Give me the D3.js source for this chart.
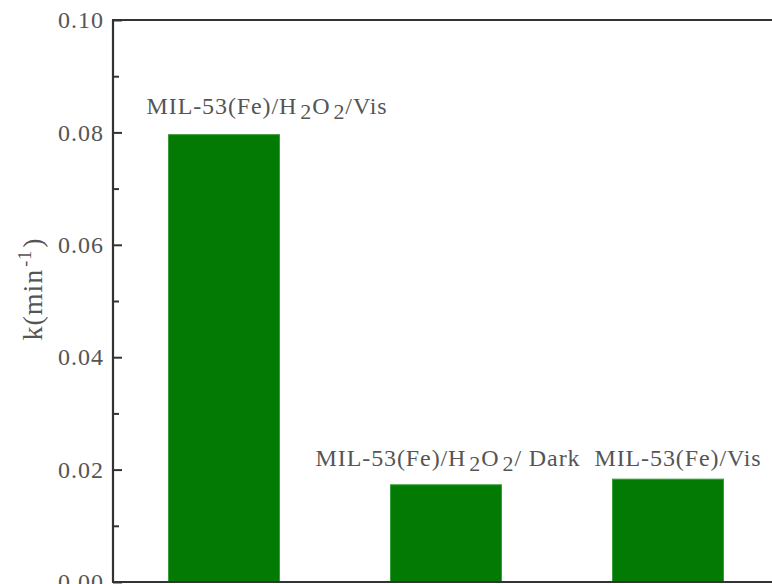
<!DOCTYPE html>
<html>
<head>
<meta charset="utf-8">
<script src="https://cdn.jsdelivr.net/npm/d3@7"></script>
<style>
  body { margin: 0; background: #fff; }
  svg { display: block; }
</style>
</head>
<body>
<div class="container"></div>
<script>
// chart data
const categories = ["MIL-53(Fe)/H2O2/Vis", "MIL-53(Fe)/H2O2/Dark", "MIL-53(Fe)/Vis"];
const rateValues = [0.0796, 0.0173, 0.0183];
const majorTicks = [0.00, 0.02, 0.04, 0.06, 0.08, 0.10];
const minorTicks = [0.01, 0.03, 0.05, 0.07, 0.09];

// label pieces: [text, isSubscript]
const labelParts = [
  [["MIL-53(Fe)/H", false], ["2", true], ["O", false], ["2", true], ["/Vis", false]],
  [["MIL-53(Fe)/H", false], ["2", true], ["O", false], ["2", true], ["/ Dark", false]],
  [["MIL-53(Fe)/Vis", false]]
];
// nudge for each bar label (layout, not data)
const labelNudge = [[43, -21], [2, -19], [10, -13]];

const width = 772;
const height = 584;
const margin = { top: 20, bottom: 2, left: 113, right: -7 };

const svg = d3.select(".container")
  .append("svg")
  .attr("width", width)
  .attr("height", height);

const xScale = d3.scaleBand()
  .domain(categories)
  .range([margin.left, width - margin.right])
  .paddingInner(0.5)
  .paddingOuter(0.25);

const yScale = d3.scaleLinear()
  .domain([0, 0.1])
  .range([height - margin.bottom, margin.top]);

const textColor = "#555";
const axisColor = "#333";
const font = "'Liberation Serif', 'Times New Roman', serif";

// bars
svg.append("g")
  .selectAll("rect")
  .data(rateValues)
  .join("rect")
  .attr("x", (d, i) => xScale(categories[i]))
  .attr("y", d => yScale(d))
  .attr("width", xScale.bandwidth())
  .attr("height", d => yScale(0) - yScale(d))
  .attr("fill", "#037a03")
  .attr("stroke", "#3a9e3a")
  .attr("stroke-width", 1);

// bar labels
const labels = svg.append("g")
  .selectAll("text")
  .data(rateValues)
  .join("text")
  .attr("x", (d, i) => xScale(categories[i]) + xScale.bandwidth() / 2 + labelNudge[i][0])
  .attr("y", (d, i) => yScale(d) + labelNudge[i][1])
  .attr("text-anchor", "middle")
  .attr("font-family", font)
  .attr("font-size", "24px")
  .attr("letter-spacing", "0.9px")
  .attr("fill", textColor);

labels.each(function(d, i) {
  const t = d3.select(this);
  labelParts[i].forEach(([txt, sub], j) => {
    const prevSub = j > 0 && labelParts[i][j - 1][1];
    let dy = 0;
    if (sub && !prevSub) dy = 5;
    if (!sub && prevSub) dy = -5;
    t.append("tspan")
      .attr("dy", dy)
      .attr("dx", sub ? 3 : 0)
      .attr("font-size", sub ? "22px" : "24px")
      .text(txt);
  });
});

// y axis, ticks pointing inward
function yAxis(g) {
  g.call(d3.axisLeft(yScale)
      .tickValues(majorTicks)
      .tickSizeInner(-9)
      .tickSizeOuter(0)
      .tickPadding(9)
      .tickFormat(d3.format(".2f")))
    .call(g => g.select(".domain").remove())
    .call(g => g.selectAll("line").attr("stroke", axisColor).attr("stroke-width", 2))
    .call(g => g.selectAll("text")
      .attr("font-family", font)
      .attr("font-size", "24px")
      .attr("letter-spacing", "1px")
      .attr("fill", textColor));
}

function yMinor(g) {
  g.call(d3.axisLeft(yScale)
      .tickValues(minorTicks)
      .tickSizeInner(-6)
      .tickSizeOuter(0)
      .tickFormat(""))
    .call(g => g.select(".domain").remove())
    .call(g => g.selectAll("line").attr("stroke", axisColor).attr("stroke-width", 2));
}

svg.append("g")
  .attr("transform", `translate(${margin.left}, 0)`)
  .call(yAxis);

svg.append("g")
  .attr("transform", `translate(${margin.left}, 0)`)
  .call(yMinor);

// frame: left, top, bottom
const frame = svg.append("g")
  .attr("stroke", axisColor)
  .attr("stroke-width", 2.2)
  .attr("fill", "none");

frame.append("line")
  .attr("x1", margin.left).attr("x2", margin.left)
  .attr("y1", yScale(0.1)).attr("y2", yScale(0));
frame.append("line")
  .attr("x1", margin.left - 1).attr("x2", width)
  .attr("y1", yScale(0.1)).attr("y2", yScale(0.1));
frame.append("line")
  .attr("x1", margin.left - 1).attr("x2", width)
  .attr("y1", yScale(0)).attr("y2", yScale(0));

// y axis title
const title = svg.append("text")
  .attr("transform", `translate(42, ${(yScale(0.1) + yScale(0)) / 2 - 12}) rotate(-90)`)
  .attr("text-anchor", "middle")
  .attr("font-family", font)
  .attr("font-size", "28px")
  .attr("letter-spacing", "1px")
  .attr("fill", textColor);

title.append("tspan").text("k(min");
title.append("tspan").attr("dy", -11).attr("dx", 2).attr("font-size", "18px").text("-1");
title.append("tspan").attr("dy", 11).attr("dx", 2).text(")");
</script>
</body>
</html>
